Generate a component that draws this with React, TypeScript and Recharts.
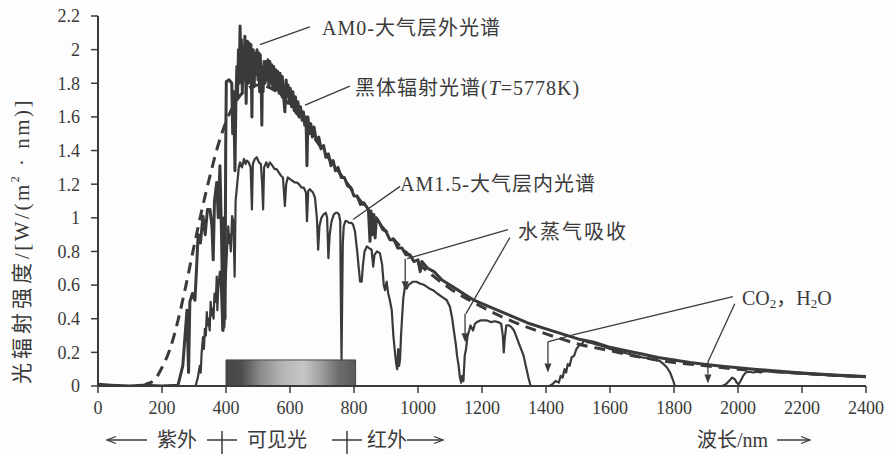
import React from "react";
import { ComposedChart, Line, XAxis, YAxis, ReferenceArea, ReferenceLine } from "recharts";

// 波长 (nm) / 光辐射强度 [W/(m2·nm)]
const blackBody: [number, number][] = [
  [140, 0], [150, 0.01], [175, 0.033], [200, 0.11], [225, 0.22], [250, 0.39], [275, 0.6],
  [300, 0.83], [325, 1.05], [350, 1.25], [375, 1.43], [400, 1.57], [450, 1.74], [500, 1.79],
  [550, 1.76], [600, 1.67], [650, 1.55], [700, 1.41], [750, 1.28], [800, 1.15], [850, 1.03],
  [900, 0.92], [950, 0.82], [1000, 0.73], [1100, 0.58], [1200, 0.47], [1300, 0.38], [1400, 0.31],
  [1500, 0.25], [1600, 0.21], [1700, 0.17], [1800, 0.14], [1900, 0.12], [2000, 0.1],
  [2100, 0.087], [2200, 0.075], [2300, 0.064], [2400, 0.056],
];

const am0: [number, number][] = [
  [0, 0.01], [40, 0.005], [100, 0], [140, 0.005], [200, 0], [250, 0.005], [265, 0.12],
  [272, 0.3], [278, 0.45], [283, 0.08], [287, 0.5], [295, 0.55], [303, 0.51], [308, 0.7],
  [313, 0.9], [320, 0.85], [328, 1.01], [335, 0.9], [342, 1.05], [350, 1.05], [356, 0.95],
  [360, 0.75], [364, 1.1], [371, 1.21], [376, 1.0], [381, 1.31], [386, 0.9], [391, 0.33],
  [394, 1.0], [397, 0.4], [399, 1.41], [401, 1.81], [410, 1.82], [418, 1.8], [421, 1.5],
  [424, 1.75], [428, 1.28], [431, 1.7], [434, 1.9], [436, 1.72], [439, 2.0], [441, 1.8],
  [444, 2.14], [446, 1.85], [448, 2.06], [451, 1.75], [454, 2.02], [456, 1.82], [459, 2.08],
  [461, 1.9], [463, 1.68], [465, 1.95], [467, 2.05], [470, 1.8], [472, 2.04], [475, 1.85],
  [478, 2.03], [481, 1.6], [483, 1.95], [485, 2.0], [488, 1.78], [491, 1.98], [494, 1.85],
  [497, 2.0], [500, 1.82], [503, 1.98], [505, 1.75], [507, 1.97], [510, 1.8], [512, 1.55],
  [514, 1.9], [516, 1.75], [519, 1.93], [522, 1.8], [525, 1.93], [528, 1.82], [531, 1.94],
  [534, 1.78], [537, 1.93], [540, 1.8], [543, 1.91], [546, 1.78], [549, 1.9], [552, 1.76],
  [556, 1.88], [559, 1.76], [562, 1.87], [566, 1.74], [569, 1.86], [573, 1.73], [576, 1.84],
  [580, 1.72], [584, 1.63], [588, 1.82], [591, 1.72], [594, 1.79], [598, 1.68], [601, 1.77],
  [605, 1.66], [609, 1.75], [613, 1.64], [617, 1.72], [621, 1.62], [625, 1.69], [629, 1.6],
  [633, 1.66], [638, 1.58], [642, 1.63], [646, 1.55], [650, 1.6], [653, 1.31], [656, 1.6],
  [660, 1.5], [665, 1.56], [670, 1.48], [675, 1.54], [682, 1.46], [690, 1.48], [697, 1.41],
  [705, 1.43], [712, 1.36], [720, 1.38], [728, 1.31], [735, 1.34], [742, 1.28], [750, 1.3],
  [760, 1.24], [770, 1.24], [780, 1.19], [790, 1.18], [800, 1.13], [810, 1.13], [820, 1.08],
  [830, 1.09], [845, 1.05], [850, 0.86], [853, 1.04], [858, 0.9], [862, 1.02], [866, 0.88],
  [870, 1.0], [880, 0.97], [890, 0.93], [900, 0.92], [912, 0.87], [925, 0.87], [937, 0.82],
  [950, 0.82], [962, 0.78], [975, 0.78], [987, 0.74], [1000, 0.75], [1007, 0.68],
  [1012, 0.74], [1030, 0.7], [1050, 0.68], [1075, 0.63], [1100, 0.6], [1125, 0.57],
  [1150, 0.54], [1175, 0.51], [1200, 0.49], [1250, 0.45], [1300, 0.41], [1350, 0.37],
  [1400, 0.34], [1450, 0.31], [1500, 0.28], [1550, 0.26], [1600, 0.23], [1650, 0.21],
  [1700, 0.19], [1750, 0.17], [1800, 0.155], [1850, 0.14], [1900, 0.128], [1950, 0.118],
  [2000, 0.108], [2050, 0.1], [2100, 0.092], [2150, 0.085], [2200, 0.078], [2250, 0.072],
  [2300, 0.066], [2350, 0.061], [2400, 0.057],
];

const am15: [number, number][] = [
  [305, 0], [312, 0.05], [318, 0.12], [321, 0.08], [324, 0.2], [328, 0.29], [331, 0.22],
  [334, 0.34], [337, 0.3], [340, 0.44], [343, 0.36], [346, 0.4], [349, 0.33], [352, 0.5],
  [355, 0.42], [358, 0.46], [361, 0.4], [364, 0.55], [368, 0.5], [371, 0.65], [373, 0.45],
  [376, 0.6], [381, 0.68], [385, 0.55], [389, 0.33], [392, 0.5], [395, 0.35], [398, 0.6],
  [403, 0.8], [407, 0.95], [410, 0.85], [412, 0.9], [415, 0.8], [419, 1.01], [423, 0.98],
  [427, 0.65], [430, 1.1], [435, 1.2], [440, 1.3], [444, 1.33], [450, 1.3], [456, 1.35],
  [461, 1.32], [465, 1.34], [471, 1.33], [477, 1.3], [481, 1.05], [484, 1.32], [490, 1.35],
  [496, 1.36], [503, 1.33], [509, 1.32], [513, 1.2], [516, 1.05], [519, 1.3], [526, 1.33],
  [531, 1.3], [537, 1.33], [545, 1.31], [552, 1.29], [558, 1.29], [565, 1.27], [572, 1.25],
  [578, 1.24], [584, 1.07], [588, 1.2], [593, 1.24], [600, 1.23], [608, 1.22], [615, 1.21],
  [621, 1.21], [628, 1.2], [636, 1.18], [643, 1.18], [650, 1.15], [653, 0.98], [657, 1.16],
  [662, 1.17], [667, 1.16], [672, 1.15], [678, 1.12], [684, 1.0], [688, 0.81], [692, 0.95],
  [698, 1.0], [705, 1.02], [712, 1.03], [716, 1.0], [720, 0.76], [724, 0.9], [730, 0.98],
  [737, 1.02], [743, 1.03], [748, 1.03], [753, 1.02], [757, 0.98], [759, 0.5], [761, 0.16],
  [763, 0.5], [765, 0.85], [768, 0.95], [773, 0.98], [777, 0.98], [785, 0.97], [792, 0.97],
  [797, 0.96], [803, 0.92], [810, 0.8], [815, 0.7], [819, 0.62], [824, 0.62], [828, 0.72],
  [833, 0.8], [840, 0.83], [847, 0.82], [855, 0.81], [860, 0.71], [864, 0.78], [872, 0.8],
  [881, 0.79], [888, 0.72], [893, 0.6], [897, 0.57], [902, 0.62], [907, 0.55], [912, 0.51],
  [918, 0.45], [923, 0.3], [928, 0.2], [932, 0.13], [935, 0.1], [938, 0.22], [941, 0.12],
  [944, 0.16], [947, 0.3], [950, 0.4], [954, 0.52], [959, 0.59], [965, 0.58], [970, 0.6],
  [977, 0.61], [984, 0.62], [995, 0.62], [1006, 0.61], [1020, 0.6], [1035, 0.58],
  [1047, 0.57], [1060, 0.55], [1075, 0.53], [1090, 0.51], [1100, 0.47], [1107, 0.4],
  [1112, 0.33], [1118, 0.25], [1122, 0.18], [1127, 0.12], [1131, 0.05], [1135, 0.02],
  [1138, 0.06], [1142, 0.03], [1146, 0.18], [1150, 0.22], [1155, 0.3], [1160, 0.33],
  [1164, 0.36], [1172, 0.33], [1178, 0.37], [1184, 0.38], [1195, 0.39], [1205, 0.39],
  [1215, 0.39], [1228, 0.38], [1240, 0.385], [1250, 0.38], [1260, 0.37], [1265, 0.3],
  [1268, 0.2], [1271, 0.28], [1276, 0.36], [1284, 0.36], [1292, 0.35], [1300, 0.33],
  [1310, 0.28], [1320, 0.23], [1330, 0.18], [1338, 0.11], [1345, 0.05], [1352, 0], [1410, 0],
  [1420, 0.01], [1430, 0.03], [1440, 0.02], [1446, 0.06], [1452, 0.05], [1458, 0.1],
  [1463, 0.08], [1468, 0.13], [1474, 0.12], [1480, 0.17], [1488, 0.18], [1495, 0.22],
  [1503, 0.24], [1512, 0.25], [1520, 0.27], [1530, 0.26], [1545, 0.255], [1560, 0.245],
  [1580, 0.235], [1600, 0.22], [1620, 0.21], [1640, 0.2], [1660, 0.19], [1680, 0.18],
  [1700, 0.17], [1720, 0.165], [1740, 0.155], [1755, 0.15], [1768, 0.13], [1778, 0.11],
  [1788, 0.08], [1796, 0.04], [1803, 0], [1950, 0], [1962, 0.01], [1972, 0.03], [1982, 0.05],
  [1990, 0.04], [1996, 0.02], [2002, 0.01], [2008, 0.03], [2016, 0.06], [2024, 0.08],
  [2035, 0.085], [2048, 0.08], [2060, 0.085], [2070, 0.08], [2080, 0.09], [2100, 0.085],
  [2150, 0.079], [2200, 0.073], [2250, 0.067], [2300, 0.062], [2350, 0.057], [2400, 0.053],
];

const xTicks = [0, 200, 400, 600, 800, 1000, 1200, 1400, 1600, 1800, 2000, 2200, 2400];
const yTicks = [0, 0.2, 0.4, 0.6, 0.8, 1, 1.2, 1.4, 1.6, 1.8, 2, 2.2];

// 可见光波段 (nm)
const visibleBand = [400, 805];

// 注释引线，数据坐标 [λ, 强度]
const leaders: { from: [number, number]; to: [number, number]; arrow?: boolean }[] = [
  { from: [662, 2.135], to: [506, 2.03] },
  { from: [787, 1.783], to: [647, 1.67] },
  { from: [944, 1.187], to: [797, 0.99] },
  { from: [1281, 0.93], to: [966, 0.757] },
  { from: [960, 0.757], to: [960, 0.57], arrow: true },
  { from: [1287, 0.8825], to: [1150, 0.43] },
  { from: [1147, 0.43], to: [1147, 0.26], arrow: true },
  { from: [1984, 0.531], to: [1484, 0.304] },
  { from: [1484, 0.304], to: [1406, 0.262] },
  { from: [1406, 0.262], to: [1406, 0.08], arrow: true },
  { from: [1990, 0.489], to: [1906, 0.143] },
  { from: [1906, 0.143], to: [1906, 0.015], arrow: true },
];

const toRows = (pts: [number, number][]) => pts.map(([x, y]) => ({ x, y }));

const INK = "#3a3a3a";
const SERIF = "'Liberation Serif', 'Times New Roman', 'Noto Sans CJK SC', serif";

const leaderShape = (arrow: boolean) => (props: any) => {
  const { x1, y1, x2, y2 } = props;
  if (!arrow) {
    return <line x1={x1} y1={y1} x2={x2} y2={y2} stroke={INK} strokeWidth={1.3} />;
  }
  const ang = Math.atan2(y2 - y1, x2 - x1);
  const len = 9;
  const half = 3.5;
  const bx = x2 - len * Math.cos(ang);
  const by = y2 - len * Math.sin(ang);
  const ox = -Math.sin(ang) * half;
  const oy = Math.cos(ang) * half;
  return (
    <g>
      <line x1={x1} y1={y1} x2={bx} y2={by} stroke={INK} strokeWidth={1.3} />
      <polygon points={`${x2},${y2} ${bx + ox},${by + oy} ${bx - ox},${by - oy}`} fill={INK} />
    </g>
  );
};

function Arrow({ x1, x2, y }: { x1: number; x2: number; y: number }) {
  const dir = Math.sign(x2 - x1);
  return (
    <g stroke={INK} strokeWidth={1.3} fill="none">
      <line x1={x1} y1={y} x2={x2} y2={y} />
      <polyline points={`${x2 - dir * 9},${y - 3.5} ${x2},${y} ${x2 - dir * 9},${y + 3.5}`} />
    </g>
  );
}

function Cross({ x, y }: { x: number; y: number }) {
  return (
    <g stroke={INK} strokeWidth={1.5}>
      <line x1={x - 15} y1={y} x2={x + 15} y2={y} />
      <line x1={x} y1={y - 9} x2={x} y2={y + 14} />
    </g>
  );
}

export default function App() {
  const tickStyle = { fill: INK, fontSize: 18, fontFamily: SERIF };
  const cjk = { fontFamily: SERIF, fontSize: 20, fill: INK } as const;

  return (
    <div style={{ position: "absolute", left: 0, top: 0, width: 889, height: 455, background: "#fdfdfd" }}>
      <ComposedChart width={889} height={455} margin={{ top: 16, right: 23, left: 0, bottom: 39 }}>
        <defs>
          <linearGradient id="visible" x1="0" y1="0" x2="1" y2="0">
            <stop offset="0" stopColor="#464646" />
            <stop offset="0.12" stopColor="#4e4e4e" />
            <stop offset="0.27" stopColor="#8c8c8c" />
            <stop offset="0.45" stopColor="#b8b8b8" />
            <stop offset="0.6" stopColor="#c6c6c6" />
            <stop offset="0.73" stopColor="#a0a0a0" />
            <stop offset="0.87" stopColor="#6c6c6c" />
            <stop offset="1" stopColor="#5a5a5a" />
          </linearGradient>
        </defs>
        <XAxis
          dataKey="x"
          type="number"
          domain={[0, 2400]}
          ticks={xTicks}
          interval={0}
          height={30}
          tickSize={7}
          tickMargin={8}
          tick={tickStyle}
          axisLine={{ stroke: INK, strokeWidth: 2 }}
          tickLine={{ stroke: INK, strokeWidth: 1.5 }}
          allowDataOverflow
        />
        <YAxis
          type="number"
          domain={[0, 2.2]}
          ticks={yTicks}
          interval={0}
          width={98}
          tickSize={7}
          tickMargin={11}
          tick={tickStyle}
          axisLine={{ stroke: INK, strokeWidth: 2 }}
          tickLine={{ stroke: INK, strokeWidth: 1.5 }}
          allowDataOverflow
        />
        <ReferenceArea
          x1={visibleBand[0]}
          x2={visibleBand[1]}
          y1={0}
          y2={0.155}
          fill="url(#visible)"
          fillOpacity={1}
          stroke="#444"
          strokeWidth={1}
        />
        <Line
          data={toRows(blackBody)}
          dataKey="y"
          type="monotone"
          stroke={INK}
          strokeWidth={3}
          strokeDasharray="11 7"
          dot={false}
          isAnimationActive={false}
        />
        <Line
          data={toRows(am0)}
          dataKey="y"
          type="linear"
          stroke={INK}
          strokeWidth={3}
          strokeLinejoin="round"
          dot={false}
          isAnimationActive={false}
        />
        <Line
          data={toRows(am15)}
          dataKey="y"
          type="linear"
          stroke={INK}
          strokeWidth={2.2}
          strokeLinejoin="round"
          dot={false}
          isAnimationActive={false}
        />
        {leaders.map((l, i) => (
          <ReferenceLine
            key={i}
            segment={[{ x: l.from[0], y: l.from[1] }, { x: l.to[0], y: l.to[1] }]}
            shape={leaderShape(!!l.arrow)}
            ifOverflow="visible"
          />
        ))}
      </ComposedChart>

      <svg
        width={889}
        height={455}
        style={{ position: "absolute", left: 0, top: 0, pointerEvents: "none" }}
      >
        <text {...cjk} fontSize={21} transform="translate(22,241) rotate(-90)" textAnchor="middle" dominantBaseline="central" letterSpacing={2.5}>
          <tspan letterSpacing={4}>光辐射强度</tspan>
          <tspan>/[W/(m</tspan>
          <tspan fontSize={12} dy={-7}>2</tspan>
          <tspan dy={7}> · nm)]</tspan>
        </text>

        <text {...cjk} x={322} y={28} dominantBaseline="central" letterSpacing={1}>
          AM0-大气层外光谱
        </text>
        <text {...cjk} x={355} y={88} dominantBaseline="central" letterSpacing={1}>
          黑体辐射光谱(<tspan fontStyle="italic">T</tspan>=5778K)
        </text>
        <text {...cjk} x={400} y={184} dominantBaseline="central" letterSpacing={1}>
          AM1.5-大气层内光谱
        </text>
        <text {...cjk} x={518} y={232} dominantBaseline="central" letterSpacing={2}>
          水蒸气吸收
        </text>
        <text {...cjk} x={742} y={298} dominantBaseline="central">
          CO<tspan fontSize={13} dy={5}>2</tspan>
          <tspan dy={-5}>，H</tspan>
          <tspan fontSize={13} dy={5}>2</tspan>
          <tspan dy={-5}>O</tspan>
        </text>

        <Arrow x1={147} x2={107} y={440} />
        <text {...cjk} x={157} y={440} dominantBaseline="central">紫外</text>
        <Cross x={222} y={440} />
        <text {...cjk} x={247} y={440} dominantBaseline="central">可见光</text>
        <Cross x={347} y={440} />
        <text {...cjk} x={367} y={440} dominantBaseline="central">红外</text>
        <Arrow x1={407} x2={443} y={440} />
        <text {...cjk} x={697} y={440} dominantBaseline="central">波长/nm</text>
        <Arrow x1={777} x2={810} y={440} />
      </svg>
    </div>
  );
}
